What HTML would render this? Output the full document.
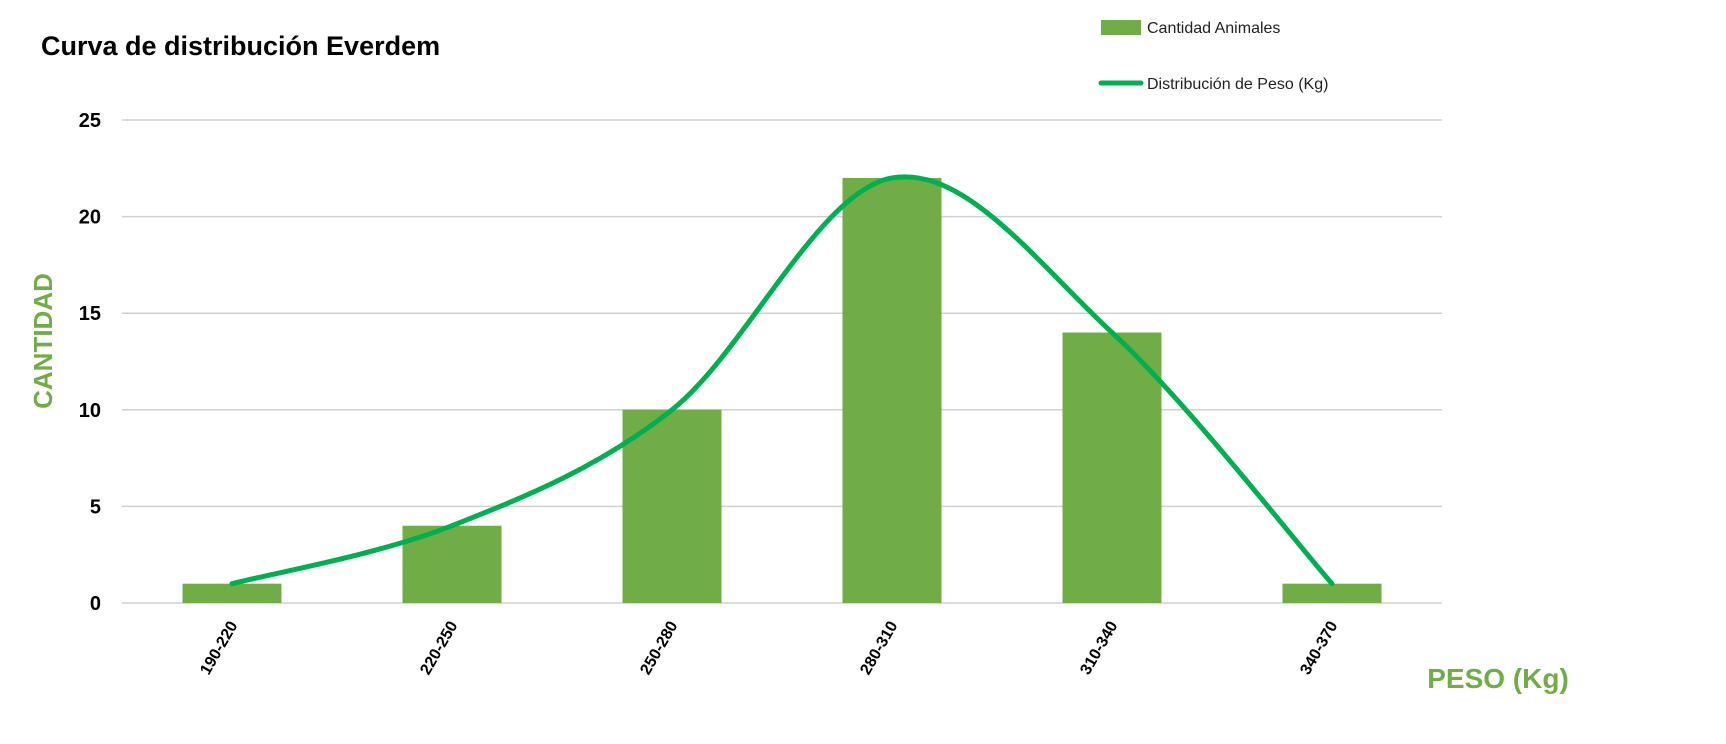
<!DOCTYPE html>
<html><head><meta charset="utf-8"><style>
body{margin:0;background:#fff;}
svg{display:block;font-family:"Liberation Sans",sans-serif;}
</style></head><body>
<svg id="chart" width="1726" height="744" viewBox="0 0 1726 744">
<text x="41" y="55" font-size="27" font-weight="bold" fill="#000">Curva de distribución Everdem</text>
<rect x="1101" y="20" width="40" height="15" fill="#70AD47"/>
<text x="1147" y="33" font-size="16" fill="#222">Cantidad Animales</text>
<line x1="1101" y1="83" x2="1141" y2="83" stroke="#00B050" stroke-width="5" stroke-linecap="round"/>
<text x="1147" y="89" font-size="16" fill="#222">Distribución de Peso (Kg)</text>
<text transform="translate(52,341) rotate(-90)" text-anchor="middle" font-size="26" font-weight="bold" fill="#70AD47">CANTIDAD</text>
<text x="1498" y="688" text-anchor="middle" font-size="28" font-weight="bold" fill="#70AD47">PESO (Kg)</text>
<g id="grid"></g><g id="bars"></g><g id="curve"></g><g id="xlabels"></g>
</svg>
<script>
const categories=["190-220","220-250","250-280","280-310","310-340","340-370"];
const counts=[1,4,10,22,14,1];
const yTicks=[0,5,10,15,20,25];
const NS="http://www.w3.org/2000/svg";
const X0=122,X1=1442,Y0=603,Y1=120,YMAX=25;
const step=(X1-X0)/categories.length;
const xC=i=>X0+step*(i+0.5);
const y=v=>Y0-(v/YMAX)*(Y0-Y1);
function mk(t,a,p){const e=document.createElementNS(NS,t);for(const k in a)e.setAttribute(k,a[k]);p.appendChild(e);return e;}
const grid=document.getElementById('grid');
yTicks.forEach(t=>{
 const l=mk('line',{x1:X0,x2:X1,y1:y(t),y2:y(t),stroke:'#d0d0d0','stroke-width':1.5},grid);
 
 
 const tx=mk('text',{x:101,y:y(t)+7,'text-anchor':'end','font-size':20,'font-weight':'bold',fill:'#000'},grid);
 tx.textContent=t;
 
 
});
const bars=document.getElementById('bars');
const bw=step*0.45;
counts.forEach((v,i)=>{
 const r=mk('rect',{x:xC(i)-bw/2,y:y(v),width:bw,height:Y0-y(v),fill:'#70AD47'},bars);
 
 
});
const pts=counts.map((v,i)=>[xC(i),y(v)]);
let d='M'+pts[0][0]+','+pts[0][1];
for(let i=0;i<pts.length-1;i++){
 const p0=pts[Math.max(i-1,0)],p1=pts[i],p2=pts[i+1],p3=pts[Math.min(i+2,pts.length-1)];
 const c1=[p1[0]+(p2[0]-p0[0])/6,p1[1]+(p2[1]-p0[1])/6];
 const c2=[p2[0]-(p3[0]-p1[0])/6,p2[1]-(p3[1]-p1[1])/6];
 d+=` C${c1[0]},${c1[1]} ${c2[0]},${c2[1]} ${p2[0]},${p2[1]}`;
}
const c=mk('path',{d:d,fill:'none',stroke:'#00B050','stroke-width':5,'stroke-linecap':'round'},document.getElementById('curve'));


const xl=document.getElementById('xlabels');
categories.forEach((cat,i)=>{
 const t=mk('text',{transform:`translate(${xC(i)+6},${Y0+22}) rotate(-60)`,'text-anchor':'end','font-size':16,'font-weight':'bold',fill:'#000'},xl);
 t.textContent=cat;
 
 
});
</script>
</body></html>
